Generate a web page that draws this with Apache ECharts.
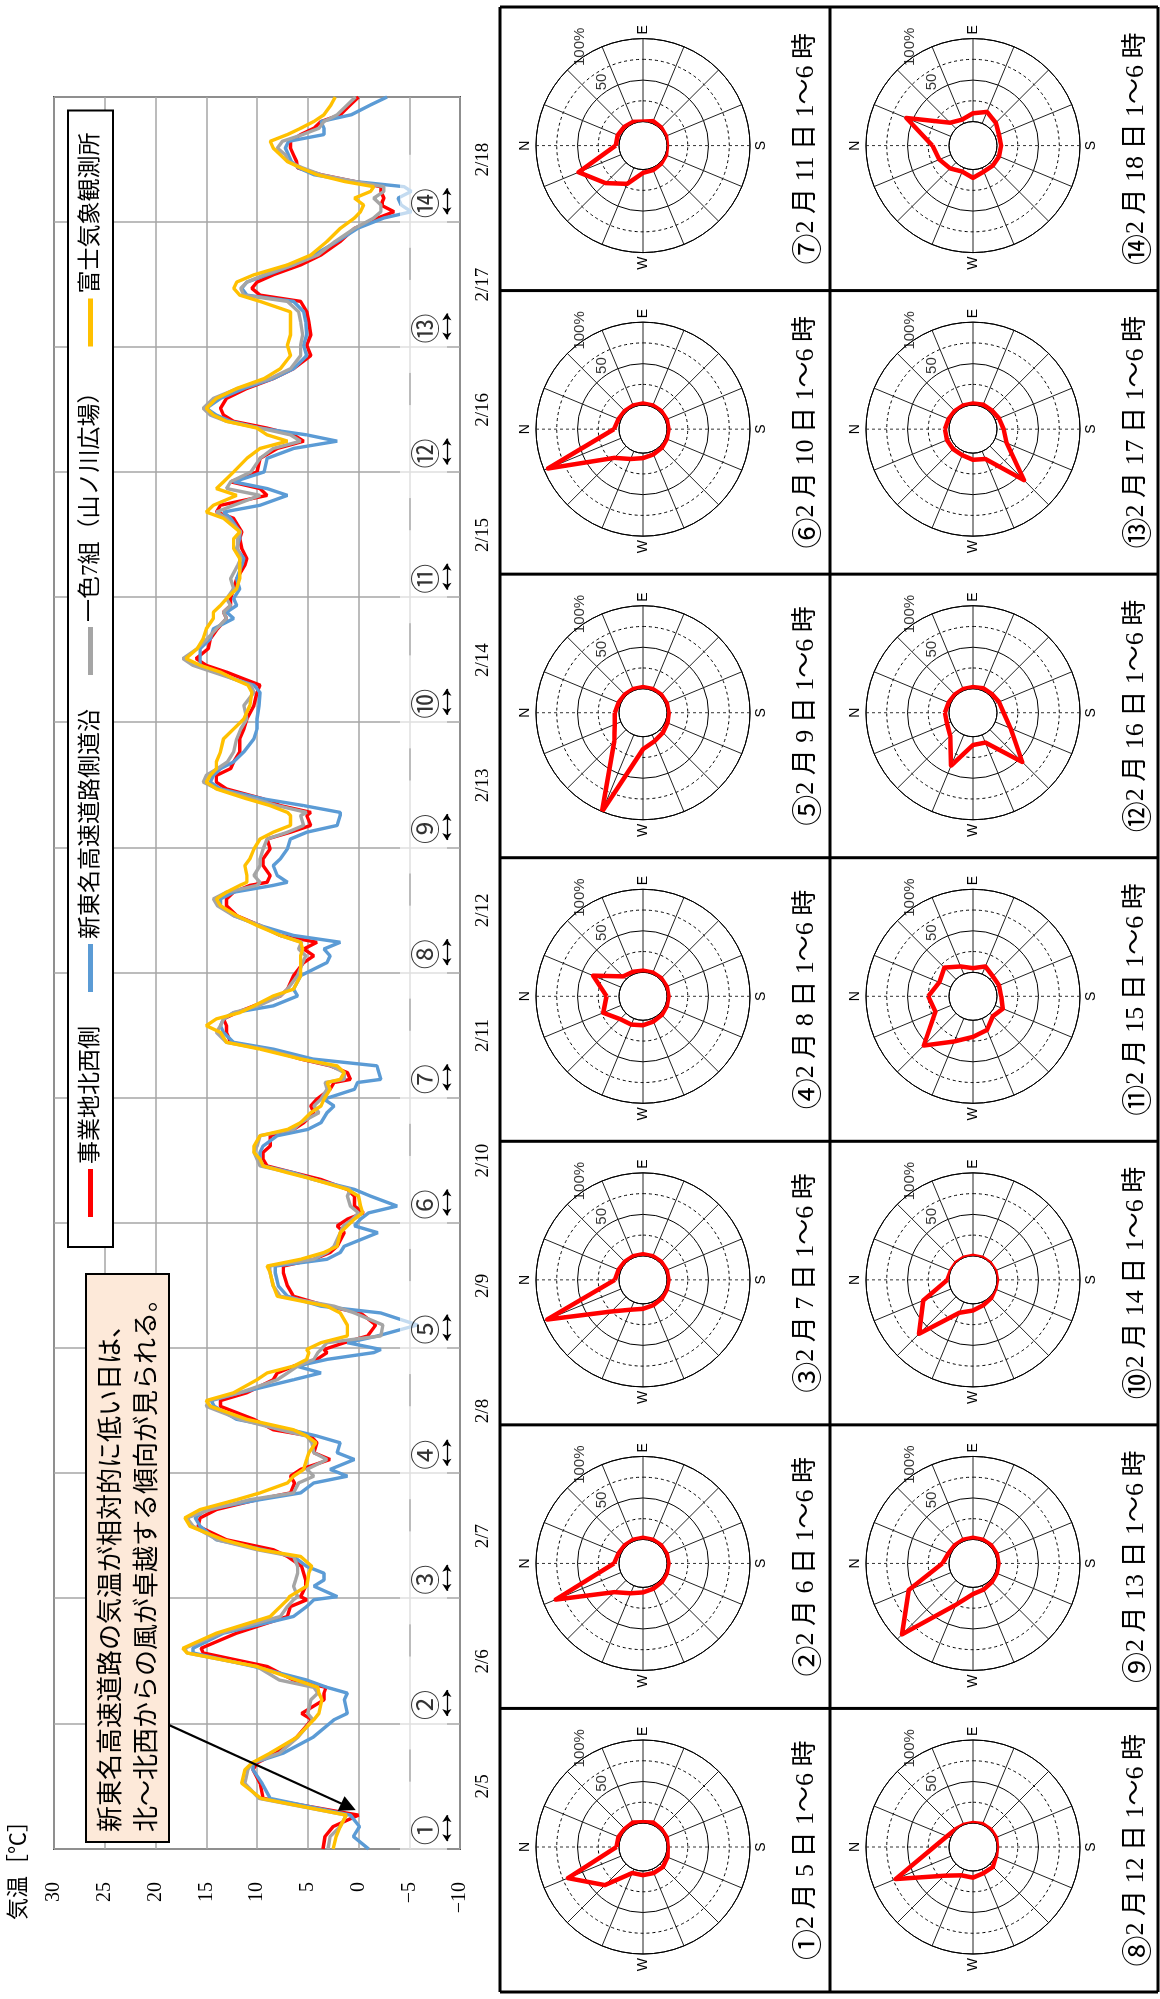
<!DOCTYPE html>
<html><head><meta charset="utf-8">
<script src="https://cdn.jsdelivr.net/npm/echarts@6/dist/echarts.min.js"></script>
<style>
html,body{margin:0;padding:0;background:#fff;overflow:hidden;}
#wrap{position:absolute;left:0;top:0;width:1160px;height:1999px;overflow:hidden;background:#fff;}
#chart{position:absolute;left:0;top:0;width:1999px;height:1160px;transform-origin:0 0;transform:translateY(1999px) rotate(-90deg);}
</style></head><body><div id="wrap"><div id="chart"></div></div>
<script>
// ---------------- data ----------------
const dates = ['2/5','2/6','2/7','2/8','2/9','2/10','2/11','2/12','2/13','2/14','2/15','2/16','2/17','2/18'];
const seriesNames = ['事業地北西側','新東名高速道路側道沿','一色7組（山ノ川広場）','富士気象観測所'];
// elapsed hours since 2/5 0:00
const hours = [0,2.4,4.3,6.5,9.7,12.6,15.2,16.5,18.4,21.4,
 24.8,26,28.6,29.9,31,32.4,35,37.6,38.5,41.4,
 44.6,46.5,47.8,48.4,50.4,51.6,52.9,54.2,56.1,57.4,
 59.3,61.9,63.5,65.1,67,68.3,70.2,71.5,72.8,74.7,
 76,77.9,79.2,80.4,82.4,84.9,86,87.5,90,91.3,
 92.6,93.9,95.2,95.8,97.1,98.4,100.5,102.8,104.1,106,
 108,110.5,111.8,113.1,114.4,115.6,118.2,119.5,120.8,122,
 123.3,125.2,126.5,128.4,129.7,131,132.3,133.6,134.8,136.8,
 138,139.3,141.2,142.5,143.8,145.7,147,147.6,148.9,150.2,
 151.5,153.4,154.7,156.6,157.9,159.2,160.4,161.7,163.6,164.9,
 167.5,170,171.3,172.6,173.9,175.2,177.1,179,180.9,182.2,
 183.5,184.8,185.4,186.7,188.6,189.9,191.8,193.7,195,196.3,
 198.2,198.8,200.1,201.4,203.3,204.6,205.9,207.2,208.5,210.4,
 212.9,214.8,216.7,219.3,221.8,223.2,224.4,225.7,227,228.3,
 230.2,232.1,234,236,237.2,238.5,239.8,241.7,243.6,246.2,
 247.5,249.4,251.3,252.6,255.2,256.4,257.7,259.6,260.9,262.2,
 264.1,266.7,268.6,270,271.2,272.5,273.8,275,276.3,278.2,
 280.1,282,283.9,286.4,288.4,290.4,292.9,294.8,296.8,298,
 299.3,300.5,301.9,303.8,305.7,308.3,310.8,312.8,314,315.3,
 316.6,317.9,318.8,319.8,321.1,322.4,323.6,324.9,326.2,327.5,
 328.8,330,331.3,332.6,334.5,336];
const tempNW = [3.5,3.3,2.5,0.0,9.4,9.7,10.4,10.0,8.1,6.1,
 4.6,5.6,3.4,3.4,3.2,6.4,9.0,15.3,15.5,12.0,
 7.0,6.7,5.1,5.7,5.2,5.2,5.4,5.6,7.0,8.4,
 13.0,15.8,15.6,14.0,10.0,6.7,6.3,6.7,5.7,2.8,
 4.4,4.1,4.7,8.4,10.3,13.6,13.6,11.0,8.4,8.0,
 6.4,4.1,3.1,3.4,1.4,-0.9,-1.7,-0.2,3.1,6.4,
 7.0,7.4,7.4,4.4,2.8,2.1,1.4,2.1,1.1,-0.5,
 0.4,0.4,1.1,3.7,6.4,9.0,9.4,9.4,8.7,8.7,
 6.4,5.4,4.4,4.7,4.1,2.8,2.4,0.8,1.1,2.8,
 5.7,9.0,12.6,13.0,13.0,13.3,12.0,10.3,7.7,7.0,
 6.4,5.4,4.4,5.4,4.1,7.7,9.7,12.0,13.0,13.0,
 12.3,10.7,9.0,8.7,9.4,9.4,8.7,9.0,6.7,4.7,
 5.1,4.7,7.7,9.4,13.0,14.0,14.0,12.6,12.3,11.7,
 11.7,11.3,11.0,10.3,10.0,9.7,11.3,13.0,15.0,16.0,
 14.8,14.6,13.9,13.0,13.3,12.6,12.6,12.3,12.0,11.2,
 11.0,11.5,11.7,11.5,12.3,14.0,13.6,9.0,9.7,12.6,
 10.0,9.7,8.0,5.4,6.4,9.0,12.3,13.3,13.6,13.0,
 11.0,8.4,6.4,4.7,5.1,4.7,4.9,5.1,5.7,9.7,
 10.5,10.0,8.4,5.7,3.7,1.8,0.4,-1.9,-3.5,-2.2,
 -2.5,-2.2,-2.2,0.4,3.7,6.0,6.1,6.4,6.7,6.7,
 5.7,4.4,3.7,1.8,0.8,0.0];
const tempExpressway = [-1.0,0.5,-0.1,0.8,8.7,9.5,10.4,10.4,7.4,4.5,
 2.4,1.1,1.4,1.1,3.1,5.1,10.3,16.3,16.3,13.3,
 6.4,5.1,4.4,2.1,4.4,3.4,3.4,5.1,6.4,9.4,
 14.0,15.6,16.1,15.0,9.7,5.7,4.4,1.1,2.8,0.4,
 2.1,1.8,4.1,6.7,12.0,14.2,14.5,11.7,6.4,3.7,
 6.1,3.1,-1.5,-2.2,1.1,-1.9,-5.8,-2.2,3.7,7.0,
 7.9,8.2,8.2,3.1,1.8,1.4,-1.9,0.4,-0.2,-1.0,
 -3.8,-1.2,0.4,4.4,6.4,9.4,9.7,9.7,9.4,8.0,
 5.0,3.7,3.1,2.4,3.4,0.4,0.1,-2.2,-2.0,-1.8,
 4.5,8.4,12.3,13.3,13.6,13.3,12.3,8.4,6.0,6.4,
 5.7,3.1,2.8,3.4,1.8,6.4,9.7,12.3,13.6,13.6,
 12.3,8.4,7.0,8.0,8.4,7.7,7.0,6.7,5.1,2.1,
 1.8,1.8,5.4,9.4,13.6,14.6,14.3,13.6,12.3,11.3,
 10.3,10.0,10.0,9.8,9.7,10.3,12.3,13.9,15.6,15.6,
 15.6,14.6,14.3,12.3,13.0,12.0,12.3,11.7,12.0,11.5,
 11.3,12.0,11.7,11.7,12.6,13.3,9.7,7.0,9.0,12.3,
 9.3,9.0,6.4,2.1,5.1,9.7,12.6,14.0,15.0,13.6,
 11.3,8.4,6.4,5.1,5.4,5.1,5.2,5.4,6.4,11.0,
 11.5,11.0,9.0,6.4,4.4,2.1,0.1,-2.5,-5.2,-4.2,
 -3.9,-5.2,-4.5,0.4,4.4,5.9,6.6,6.9,7.2,6.9,
 3.4,3.4,3.7,0.7,-1.2,-2.8];
const tempIsshiki = [3.0,2.8,1.8,1.2,9.8,11.2,10.9,10.5,7.8,6.0,
 4.5,5.0,4.7,4.0,4.4,7.8,10.0,16.9,17.1,13.6,
 7.7,7.0,6.4,6.0,6.4,6.2,6.0,6.0,6.4,10.0,
 13.9,16.3,16.9,14.6,10.7,6.4,5.9,4.4,5.1,3.1,
 4.4,4.6,5.1,7.7,11.7,15.0,14.8,11.7,8.0,7.0,
 6.0,4.4,4.0,3.7,3.1,-2.2,-2.4,0.4,2.4,7.7,
 8.4,8.7,8.8,4.4,3.1,2.4,1.8,1.5,0.6,0.0,
 0.8,1.1,0.8,4.4,6.7,9.7,10.0,10.3,10.0,9.7,
 6.4,5.7,3.9,4.4,3.7,3.1,3.3,1.4,1.4,2.7,
 5.5,9.3,13.0,14.0,13.6,13.3,12.3,9.9,7.7,7.0,
 6.0,5.5,5.2,5.9,5.6,7.7,9.7,12.3,13.9,14.3,
 13.0,10.0,9.7,10.3,9.7,9.7,9.4,9.0,7.0,5.4,
 5.7,5.1,8.0,10.3,13.9,15.3,15.0,13.9,12.9,12.3,
 12.0,11.6,11.0,11.3,10.3,10.6,12.3,14.3,16.3,17.3,
 15.9,14.9,14.0,13.0,13.3,12.6,13.0,12.3,12.6,11.9,
 11.6,11.9,11.9,11.6,13.0,14.0,12.3,9.7,13.0,12.6,
 10.6,9.7,8.4,5.7,6.7,9.7,13.0,14.6,15.3,14.3,
 11.9,8.7,6.7,5.7,5.7,5.5,5.7,5.9,7.0,11.3,
 11.6,11.0,9.3,6.4,4.0,2.3,0.4,-1.5,-2.2,-2.2,
 -1.5,-2.5,-2.5,0.4,3.7,5.5,6.9,7.2,8.0,7.5,
 5.5,3.9,3.4,2.1,1.1,0.3];
const tempFuji = [2.5,2.2,1.8,1.2,9.6,11.5,11.2,10.5,8.7,6.1,
 4.4,3.9,3.6,3.9,4.0,6.1,10.0,16.9,17.3,14.0,
 8.7,7.7,7.0,6.8,5.1,5.0,4.9,4.6,5.7,9.7,
 13.3,16.6,17.1,15.6,12.0,9.7,7.0,6.4,5.4,5.1,
 4.9,4.2,5.1,6.4,11.0,14.6,15.0,12.3,10.0,9.0,
 6.4,5.1,4.9,5.1,3.7,1.1,1.1,1.8,3.1,8.0,
 8.4,8.7,9.0,5.7,3.4,2.1,1.8,1.1,0.4,-0.4,
 -0.2,0.0,1.1,4.4,7.0,9.4,9.7,10.3,10.3,9.7,
 7.0,5.7,4.7,3.7,3.4,2.8,3.1,1.8,1.4,2.1,
 5.7,9.7,13.0,13.6,15.0,14.0,11.7,10.3,8.4,6.4,
 5.7,5.7,5.7,5.5,5.7,7.7,10.0,12.0,13.6,14.0,
 13.0,11.7,11.0,11.0,11.2,10.7,10.3,9.7,8.4,6.7,
 6.7,7.0,8.7,11.0,14.0,15.0,14.6,14.0,14.0,13.6,
 13.3,12.3,11.3,10.7,10.5,10.9,12.3,13.6,15.6,17.0,
 15.9,15.3,15.0,14.3,14.3,13.6,13.0,12.0,11.7,11.7,
 11.7,12.3,12.3,11.7,13.3,15.0,14.3,12.0,14.0,13.3,
 12.3,11.0,9.7,7.0,9.0,10.0,13.0,14.3,15.0,14.0,
 12.0,9.3,7.7,6.7,7.0,6.7,6.7,6.7,9.7,11.7,
 12.3,12.0,10.3,7.0,4.7,3.1,1.8,0.4,-0.2,-0.5,
 0.4,-1.2,-1.5,1.4,4.1,5.7,7.0,7.7,8.4,8.7,
 7.0,5.7,4.4,3.4,2.7,2.3];
const tempSeries = [tempNW, tempExpressway, tempIsshiki, tempFuji];

const markerLabels = ['①','②','③','④','⑤','⑥','⑦','⑧','⑨','⑩','⑪','⑫','⑬','⑭'];
const note = ['新東名高速道路の気温が相対的に低い日は、','北〜北西からの風が卓越する傾向が見られる。'];

// wind roses: frequency (%) by 16 directions, N, NNE, ... NNW
const roseDirs = ['N','NNE','NE','ENE','E','ESE','SE','SSE','S','SSW','SW','WSW','W','WNW','NW','NNW'];
const roseDays = ['5','6','7','8','9','10','11','12','13','14','15','16','17','18'];
const roseTitleTail = ' 日 1〜6 時';
const rose01 = [3,3,2,3,1,3,2,2,1,3,5,5,5,5,36,69];
const rose02 = [6,3,2,2,2,2,2,2,2,2,3,4,6,10,20,85];
const rose03 = [5,3,2,2,2,2,2,2,2,2,3,4,6,10,25,96];
const rose04 = [15,36,5,3,2,2,2,2,2,2,3,4,6,8,10,23];
const rose05 = [5,3,2,2,2,2,2,2,2,3,5,8,15,100,20,8];
const rose06 = [6,3,2,2,2,2,2,2,2,2,3,4,6,10,20,95];
const rose07 = [4,4,3,2,0,3,2,1,0,1,2,3,4,21,35,55];
const rose08 = [18,5,1,0,0,1,1,1,0,1,5,5,8,8,20,72];
const rose09 = [8,3,2,2,2,2,2,2,2,2,3,5,8,25,92,55];
const rose10 = [2,0,0,0,0,0,0,0,0,0,2,4,8,14,63,36];
const rose11 = [25,15,20,10,5,10,5,5,5,10,5,15,20,30,55,20];
const rose12 = [5,3,2,2,2,3,3,5,8,20,55,10,10,40,10,5];
const rose13 = [5,3,2,2,2,3,3,5,8,15,58,10,8,5,5,5];
const rose14 = [20,58,10,5,10,15,10,5,5,5,5,5,10,5,10,15];
const roses = [rose01,rose02,rose03,rose04,rose05,rose06,rose07,rose08,rose09,rose10,rose11,rose12,rose13,rose14];
const ringValues = [50, 100];
const ringLabels = ['50', '100%'];

// ---------------- styling / layout ----------------
const colors = ['#ff0000', '#5b9bd5', '#a5a5a5', '#ffc000'];
const SERIF = '"Liberation Serif", "Noto Sans CJK JP", serif';
const CJK = '"Liberation Serif", "Noto Sans CJK JP", sans-serif';
const CIRC = '"Noto Sans CJK JP", sans-serif';
const SANS = '"Liberation Sans", Arial, sans-serif';

const chart = echarts.init(document.getElementById('chart'), null, {renderer: 'canvas', width: 1999, height: 1160});

const cellLeft = 7, cellW = (1992 - 7) / 7, rowTop = [500, 830], rowBottom = 1158;

const series = [];
tempSeries.forEach((arr, k) => {
  series.push({
    name: seriesNames[k], type: 'line', xAxisIndex: 0, yAxisIndex: 0,
    data: hours.map((h, i) => [h, arr[i]]),
    showSymbol: false, symbol: 'none', smooth: false,
    lineStyle: {color: colors[k], width: 3.4}, itemStyle: {color: colors[k]},
    z: 2 + k * 0.01, silent: true
  });
});
// day markers with white text box
series.push({
  type: 'scatter', xAxisIndex: 0, yAxisIndex: 0, silent: true, z: 4,
  data: markerLabels.map((m, i) => [i * 24 + 4, -6.4]),
  symbol: 'rect', symbolSize: [93, 47],
  itemStyle: {color: 'rgba(255,255,255,0.8)'},
  label: {show: true, position: 'inside', formatter: p => markerLabels[p.dataIndex],
          fontSize: 30, color: '#000', fontFamily: CIRC, offset: [-2, 1]}
});
// ↔ arrows for 1-6 h
series.push({
  type: 'scatter', xAxisIndex: 0, yAxisIndex: 0, data: [], silent: true,
  markLine: {
    silent: true, animation: false, symbol: ['arrow', 'arrow'], symbolSize: 7,
    label: {show: false}, lineStyle: {color: '#000', width: 1.3, type: 'solid'}, z: 6,
    data: markerLabels.map((m, i) => [{coord: [i * 24 + 1.5, -8.7]}, {coord: [i * 24 + 6.5, -8.7]}])
  }
});
// annotation arrow
series.push({
  type: 'scatter', xAxisIndex: 0, yAxisIndex: 0, data: [], silent: true,
  markLine: {
    silent: true, animation: false, symbol: ['none', 'triangle'], symbolSize: 16,
    label: {show: false}, lineStyle: {color: '#000', width: 2.2, type: 'solid'}, z: 6,
    data: [[{coord: [23.8, 18.7]}, {coord: [8.1, 1.0]}]]
  }
});

const polar = [], angleAxis = [], radiusAxis = [];
const spokeColors = roseDirs.map((d, k) => (k === 0 || k === 8) ? 'rgba(0,0,0,0)' : '#222');
roses.forEach((vals, i) => {
  const col = i % 7, row = Math.floor(i / 7);
  const cx = cellLeft + col * cellW + 145, cy = rowTop[row] + 143;
  const pa = 2 * i, pb = 2 * i + 1;
  polar.push({center: [cx, cy], radius: [24, 107]});
  polar.push({center: [cx, cy], radius: [24, 107]});
  angleAxis.push({
    polarIndex: pa, type: 'value', min: 0, max: 360, interval: 22.5, startAngle: 90, clockwise: true,
    axisLine: {show: true, lineStyle: {color: '#000', width: 1}},
    axisTick: {show: false},
    axisLabel: {show: true, margin: 4, fontSize: 14, fontFamily: SANS, color: '#000',
      formatter: v => ({0: 'N', 90: 'E', 180: 'S', 270: 'W'})[v] || ''},
    splitLine: {show: true, lineStyle: {color: spokeColors, width: 1}}
  });
  angleAxis.push({
    polarIndex: pb, type: 'value', min: 0, max: 360, interval: 180, startAngle: 90, clockwise: true,
    axisLine: {show: false}, axisTick: {show: false}, axisLabel: {show: false},
    splitLine: {show: true, lineStyle: {color: '#333', width: 1, type: [3, 3]}}
  });
  radiusAxis.push({
    polarIndex: pa, type: 'value', min: 0, max: 100, interval: 50,
    axisLine: {show: false}, axisTick: {show: false}, axisLabel: {show: false},
    splitLine: {show: true, lineStyle: {color: '#000', width: 1}},
    minorTick: {show: false, splitNumber: 2},
    minorSplitLine: {show: true, lineStyle: {color: '#000', width: 1, type: [3, 3]}}
  });
  radiusAxis.push({polarIndex: pb, type: 'value', min: 0, max: 100, show: false});
  const d = vals.map((v, k) => [v, k * 22.5]);
  d.push([vals[0], 360]);
  series.push({
    type: 'line', coordinateSystem: 'polar', polarIndex: pa, data: d,
    showSymbol: false, symbol: 'none', silent: true, z: 5,
    lineStyle: {color: '#ff0000', width: 4.5, join: 'round'}
  });
  series.push({
    type: 'scatter', coordinateSystem: 'polar', polarIndex: pa, silent: true, z: 6,
    data: ringValues.map(v => [v, 58]), symbolSize: 0,
    label: {show: true, position: 'inside', formatter: p => ringLabels[p.dataIndex],
      fontSize: 15, fontFamily: SANS, color: '#000', offset: [8, -6]}
  });
});

// graphics: annotation box, cell grid, rose titles
const graphic = [];
graphic.push({type: 'rect', z: 100, shape: {x: 157, y: 86, width: 568, height: 83},
  style: {fill: '#fde9d9', stroke: '#000', lineWidth: 2}});
note.forEach((t, k) => graphic.push({type: 'text', z: 101, x: 167, y: 112 + k * 36,
  style: {text: t, font: '26px ' + CJK, fill: '#000', verticalAlign: 'middle', textVerticalAlign: 'middle'}}));
[rowTop[0], rowTop[1], rowBottom].forEach(y => graphic.push({type: 'line', z: 100,
  shape: {x1: cellLeft, y1: y, x2: cellLeft + 7 * cellW, y2: y}, style: {stroke: '#000', lineWidth: 3}}));
for (let k = 0; k <= 7; k++) {
  const x = cellLeft + k * cellW;
  graphic.push({type: 'line', z: 100, shape: {x1: x, y1: rowTop[0], x2: x, y2: rowBottom}, style: {stroke: '#000', lineWidth: 3}});
}
roseDays.forEach((dd, i) => {
  const col = i % 7, row = Math.floor(i / 7);
  graphic.push({type: 'text', z: 101, x: cellLeft + (col + 0.5) * cellW, y: rowTop[row] + 306,
    style: {text: '{c|' + markerLabels[i] + '}{t|2 月 ' + dd + roseTitleTail + '}',
            rich: {c: {fontSize: 31, fontFamily: CIRC, fill: '#000', verticalAlign: 'middle'},
                   t: {fontSize: 26, fontFamily: CJK, fill: '#000', verticalAlign: 'middle'}},
            fill: '#000', align: 'center', textAlign: 'center',
            verticalAlign: 'middle', textVerticalAlign: 'middle'}});
});

const option = {
  animation: false,
  backgroundColor: '#fff',
  title: {text: '気温［℃］', left: 79, top: 8, padding: 0,
    textStyle: {fontSize: 22, fontWeight: 'normal', fontFamily: CJK, color: '#000'}},
  legend: {
    data: seriesNames, left: 752, top: 68, itemGap: 34, itemWidth: 48, itemHeight: 5, icon: 'rect',
    padding: [11, 22, 11, 30], backgroundColor: '#fff', borderColor: '#000', borderWidth: 2,
    textStyle: {fontSize: 23, fontFamily: CJK, color: '#000'}, selectedMode: false
  },
  grid: {left: 150, top: 54, width: 1752, height: 406, show: true, borderColor: '#4d4d4d', borderWidth: 2, backgroundColor: 'transparent'},
  xAxis: [
    {type: 'value', min: 0, max: 336, interval: 24, axisLabel: {show: false}, axisTick: {show: false},
     axisLine: {show: false}, splitLine: {show: true, lineStyle: {color: '#a6a6a6', width: 1.5}}},
    {type: 'category', data: dates, position: 'bottom', boundaryGap: true, axisTick: {show: false},
     axisLine: {show: false}, splitLine: {show: false},
     axisLabel: {show: true, margin: 14, fontSize: 19, fontFamily: SERIF, color: '#000'}}
  ],
  yAxis: [{type: 'value', min: -10, max: 30, interval: 5, axisTick: {show: false}, axisLine: {show: false},
    axisLabel: {margin: 33, fontSize: 20, fontFamily: SERIF, color: '#000',
      formatter: v => v < 0 ? '−' + (-v) : String(v)},
    splitLine: {show: true, lineStyle: {color: '#a6a6a6', width: 1.5}}}],
  polar: polar, angleAxis: angleAxis, radiusAxis: radiusAxis,
  series: series,
  graphic: graphic
};
chart.setOption(option);
</script></body></html>
